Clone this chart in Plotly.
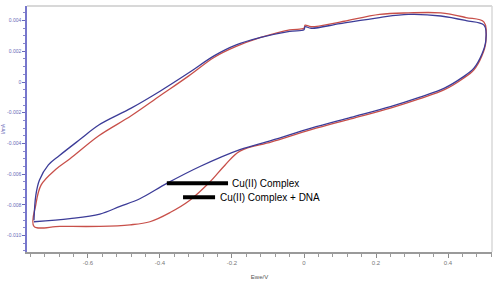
import plotly.graph_objects as go

# Cu(II) Complex (blue) - forward and reverse sweeps
blue_E = [-0.75, -0.745, -0.735, -0.71, -0.68, -0.62, -0.57, -0.48, -0.40, -0.32, -0.25, -0.19,
          -0.12, -0.04, 0.0, 0.003, 0.02, 0.10, 0.21, 0.29, 0.38, 0.45, 0.50,
          0.505, 0.494, 0.472, 0.44, 0.39, 0.32, 0.24, 0.13, 0.02, -0.09, -0.178,
          -0.289, -0.381, -0.456, -0.511, -0.567, -0.65, -0.75]
blue_I = [-0.0090, -0.0074, -0.0064, -0.0054, -0.0048, -0.0037, -0.0028, -0.0017, -0.0006, 0.0006, 0.0017, 0.0024,
          0.0029, 0.0033, 0.0034, 0.0036, 0.0035, 0.0038, 0.0042, 0.0044, 0.0043, 0.0040, 0.0037,
          0.0027, 0.0018, 0.0009, 0.0003, -0.0004, -0.0010, -0.0016, -0.0023, -0.0030, -0.0038, -0.0044,
          -0.0055, -0.0066, -0.0076, -0.0081, -0.0086, -0.0089, -0.0091]

# Cu(II) Complex + DNA (red)
red_E = [-0.75, -0.745, -0.73, -0.69, -0.65, -0.57, -0.48, -0.40, -0.32, -0.25, -0.19, -0.12,
         -0.04, 0.0, 0.003, 0.02, 0.10, 0.21, 0.29, 0.38, 0.45, 0.50,
         0.505, 0.494, 0.472, 0.44, 0.39, 0.32, 0.24, 0.13, 0.02, -0.09, -0.178,
         -0.219, -0.261, -0.317, -0.372, -0.428, -0.483, -0.567, -0.678, -0.75]
red_I = [-0.0094, -0.0080, -0.0067, -0.0057, -0.0050, -0.0035, -0.0022, -0.0009, 0.0004, 0.0016, 0.0023, 0.0029,
         0.0034, 0.0035, 0.0037, 0.0036, 0.0039, 0.0044, 0.0045, 0.0045, 0.0042, 0.0039,
         0.0026, 0.0017, 0.0008, 0.0002, -0.0005, -0.0011, -0.0017, -0.0024, -0.0031, -0.0039, -0.0045,
         -0.0054, -0.0065, -0.0077, -0.0085, -0.0091, -0.0093, -0.0094, -0.0094, -0.0094]

x_ticks = [-0.6, -0.4, -0.2, 0, 0.2, 0.4]
x_labels = ["-0.6", "-0.4", "-0.2", "0", "0.2", "0.4"]
y_ticks = [0.004, 0.002, 0, -0.002, -0.004, -0.006, -0.008, -0.010]
y_labels = ["0.004", "0.002", "0", "-0.002", "-0.004", "-0.006", "-0.008", "-0.010"]

labels = ["Cu(II) Complex", "Cu(II) Complex + DNA"]

fig = go.Figure()
fig.add_trace(go.Scatter(x=red_E, y=red_I, mode="lines", line=dict(color="#c8504a", width=1.3),
                         line_shape="spline", showlegend=False))
fig.add_trace(go.Scatter(x=blue_E, y=blue_I, mode="lines", line=dict(color="#3c3c98", width=1.3),
                         line_shape="spline", showlegend=False))

# callout lines + labels
fig.add_shape(type="line", x0=-0.381, x1=-0.211, y0=-0.0066, y1=-0.0066, xref="x", yref="y",
              line=dict(color="black", width=4))
fig.add_shape(type="line", x0=-0.336, x1=-0.247, y0=-0.0075, y1=-0.0075, xref="x", yref="y",
              line=dict(color="black", width=4))
fig.add_annotation(x=-0.206, y=-0.0066, text=labels[0], showarrow=False, xanchor="left",
                   font=dict(family="Liberation Sans", size=10, color="black"))
fig.add_annotation(x=-0.240, y=-0.0075, text=labels[1], showarrow=False, xanchor="left",
                   font=dict(family="Liberation Sans", size=10, color="black"))

# frame (top/right)
fig.add_shape(type="line", xref="paper", yref="paper", x0=0, x1=1, y0=1, y1=1,
              line=dict(color="#d8d8d8", width=2))
fig.add_shape(type="line", xref="paper", yref="paper", x0=1, x1=1, y0=0, y1=1,
              line=dict(color="#d8d8d8", width=1.5))

fig.update_xaxes(range=[-0.7694, 0.5222], tickvals=x_ticks, ticktext=x_labels, automargin=False,
                 showgrid=False, zeroline=False, showline=True, linecolor="#9a9a9a", linewidth=1.5,
                 ticks="outside", ticklen=4, tickcolor="#8a8a8a",
                 tickfont=dict(family="Liberation Sans", size=6, color="#777777"),
                 minor=dict(dtick=0.04, tick0=0, ticks="outside", ticklen=3, tickcolor="#9a9a9a"),
                 title=dict(text="Ewe/V", font=dict(family="Liberation Sans", size=6, color="#555555"), standoff=10))
fig.update_yaxes(range=[-0.01107, 0.00495], tickvals=y_ticks, ticktext=y_labels, automargin=False,
                 showgrid=False, zeroline=False, showline=True, linecolor="#7777cc", linewidth=1.5,
                 ticks="outside", ticklen=3, tickcolor="#6666bb",
                 tickfont=dict(family="Liberation Sans", size=5, color="#6a6ab8"),
                 minor=dict(dtick=0.0005, tick0=0, ticks="outside", ticklen=2, tickcolor="#8888cc"),
                 title=dict(text="I/mA", font=dict(family="Liberation Sans", size=5, color="#6a6ab8"), standoff=2))

fig.update_layout(width=500, height=288, margin=dict(l=27, r=8, t=6, b=36),
                  plot_bgcolor="white", paper_bgcolor="white")

fig.write_html("out.html")
